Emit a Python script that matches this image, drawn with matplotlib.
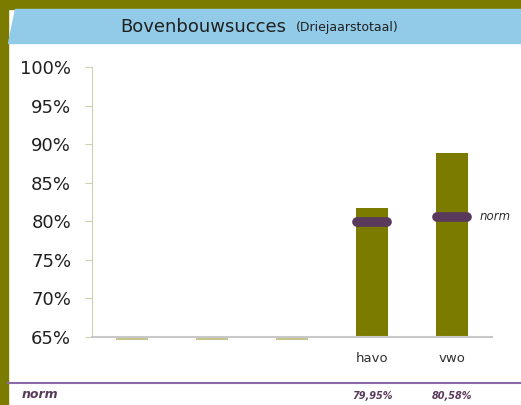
import numpy as np
import matplotlib.pyplot as plt
import matplotlib.transforms as mtransforms
from matplotlib.patches import Polygon, Rectangle
from matplotlib.lines import Line2D

# data
categories = ["", "", "", "havo", "vwo"]
succes = [0, 0, 0, 81.7, 88.9]
norm = [None, None, None, 79.95, 80.58]
norm_labels = ["", "", "", "79,95%", "80,58%"]
yticks = [65, 70, 75, 80, 85, 90, 95, 100]

OLIVE = "#7b7b00"
BLUE = "#92cbe8"
PURPLE = "#5a3a5c"
W, H = 521, 405


def fx(px):
    return px / W


def fy(py):
    return 1 - py / H


fig = plt.figure(figsize=(W / 100, H / 100), dpi=100)
fig.patch.set_facecolor("white")

# frame: olive border, blue slanted title band
fig.patches.append(Rectangle((0, fy(9)), 1, 9 / H, transform=fig.transFigure,
                             color=OLIVE, zorder=0))
fig.patches.append(Rectangle((0, 0), fx(7.5), 1, transform=fig.transFigure,
                             color=OLIVE, zorder=0))
fig.patches.append(Polygon([(fx(15), fy(9)), (fx(W), fy(9)), (fx(W), fy(43)),
                            (fx(7.5), fy(43))], closed=True,
                           transform=fig.transFigure, color=BLUE, zorder=0))
fig.text(fx(120), fy(27), "Bovenbouwsucces", fontsize=13, color="#202020",
         va="center", ha="left")
fig.text(fx(296), fy(28), "(Driejaarstotaal)", fontsize=9, color="#202020",
         va="center", ha="left")

# bottom norm row
fig.lines.append(Line2D([fx(7.5), 1], [fy(383), fy(383)], transform=fig.transFigure,
                        color="#8a6aa8", lw=1.5))
fig.text(fx(22), fy(395), "norm", fontsize=9, fontstyle="italic", fontweight="bold",
         color=PURPLE, va="center")

ax = fig.add_axes([fx(92), fy(337), fx(492) - fx(92), fy(67) - fy(337)])
ax.set_xlim(-0.5, 4.5)
ax.set_ylim(65, 100)

x = np.arange(len(categories))
vals = np.array(succes, dtype=float)
ax.bar(x, vals - 65, bottom=65, width=0.41, color=OLIVE, zorder=2)
empty = vals < 65
ax.bar(x[empty], -0.35, bottom=65, width=0.41, color="#c4c48c", clip_on=False, zorder=2)

row = mtransforms.blended_transform_factory(ax.transData, fig.transFigure)
for i, n in enumerate(norm):
    if n is None:
        continue
    ax.plot([i - 0.19, i + 0.19], [n, n], lw=7, color=PURPLE, solid_capstyle="round",
            zorder=3)
    ax.text(i, fy(396), norm_labels[i], transform=row, fontsize=7,
            fontstyle="italic", fontweight="bold", color=PURPLE, ha="center",
            va="center", clip_on=False)

last = max(i for i, n in enumerate(norm) if n is not None)
ax.text(last + 0.34, norm[last], "norm", fontsize=8.5, fontstyle="italic",
        color="#303030", va="center", ha="left", clip_on=False)

ax.set_yticks(yticks)
ax.set_yticklabels([f"{t}%" for t in yticks], fontsize=13, color="#202020")
ax.set_xticks(x)
ax.set_xticklabels(categories, fontsize=9.5, color="#303030")
ax.tick_params(axis="x", length=0, pad=11)
ax.tick_params(axis="y", length=5, color="#d0d0b0", pad=10)
for s in ["top", "right"]:
    ax.spines[s].set_visible(False)
ax.spines["left"].set_color("#d0d0b0")
ax.spines["bottom"].set_color("#c8c8c8")
ax.spines["bottom"].set_linewidth(1.5)

fig.savefig("out.png", dpi=100)
